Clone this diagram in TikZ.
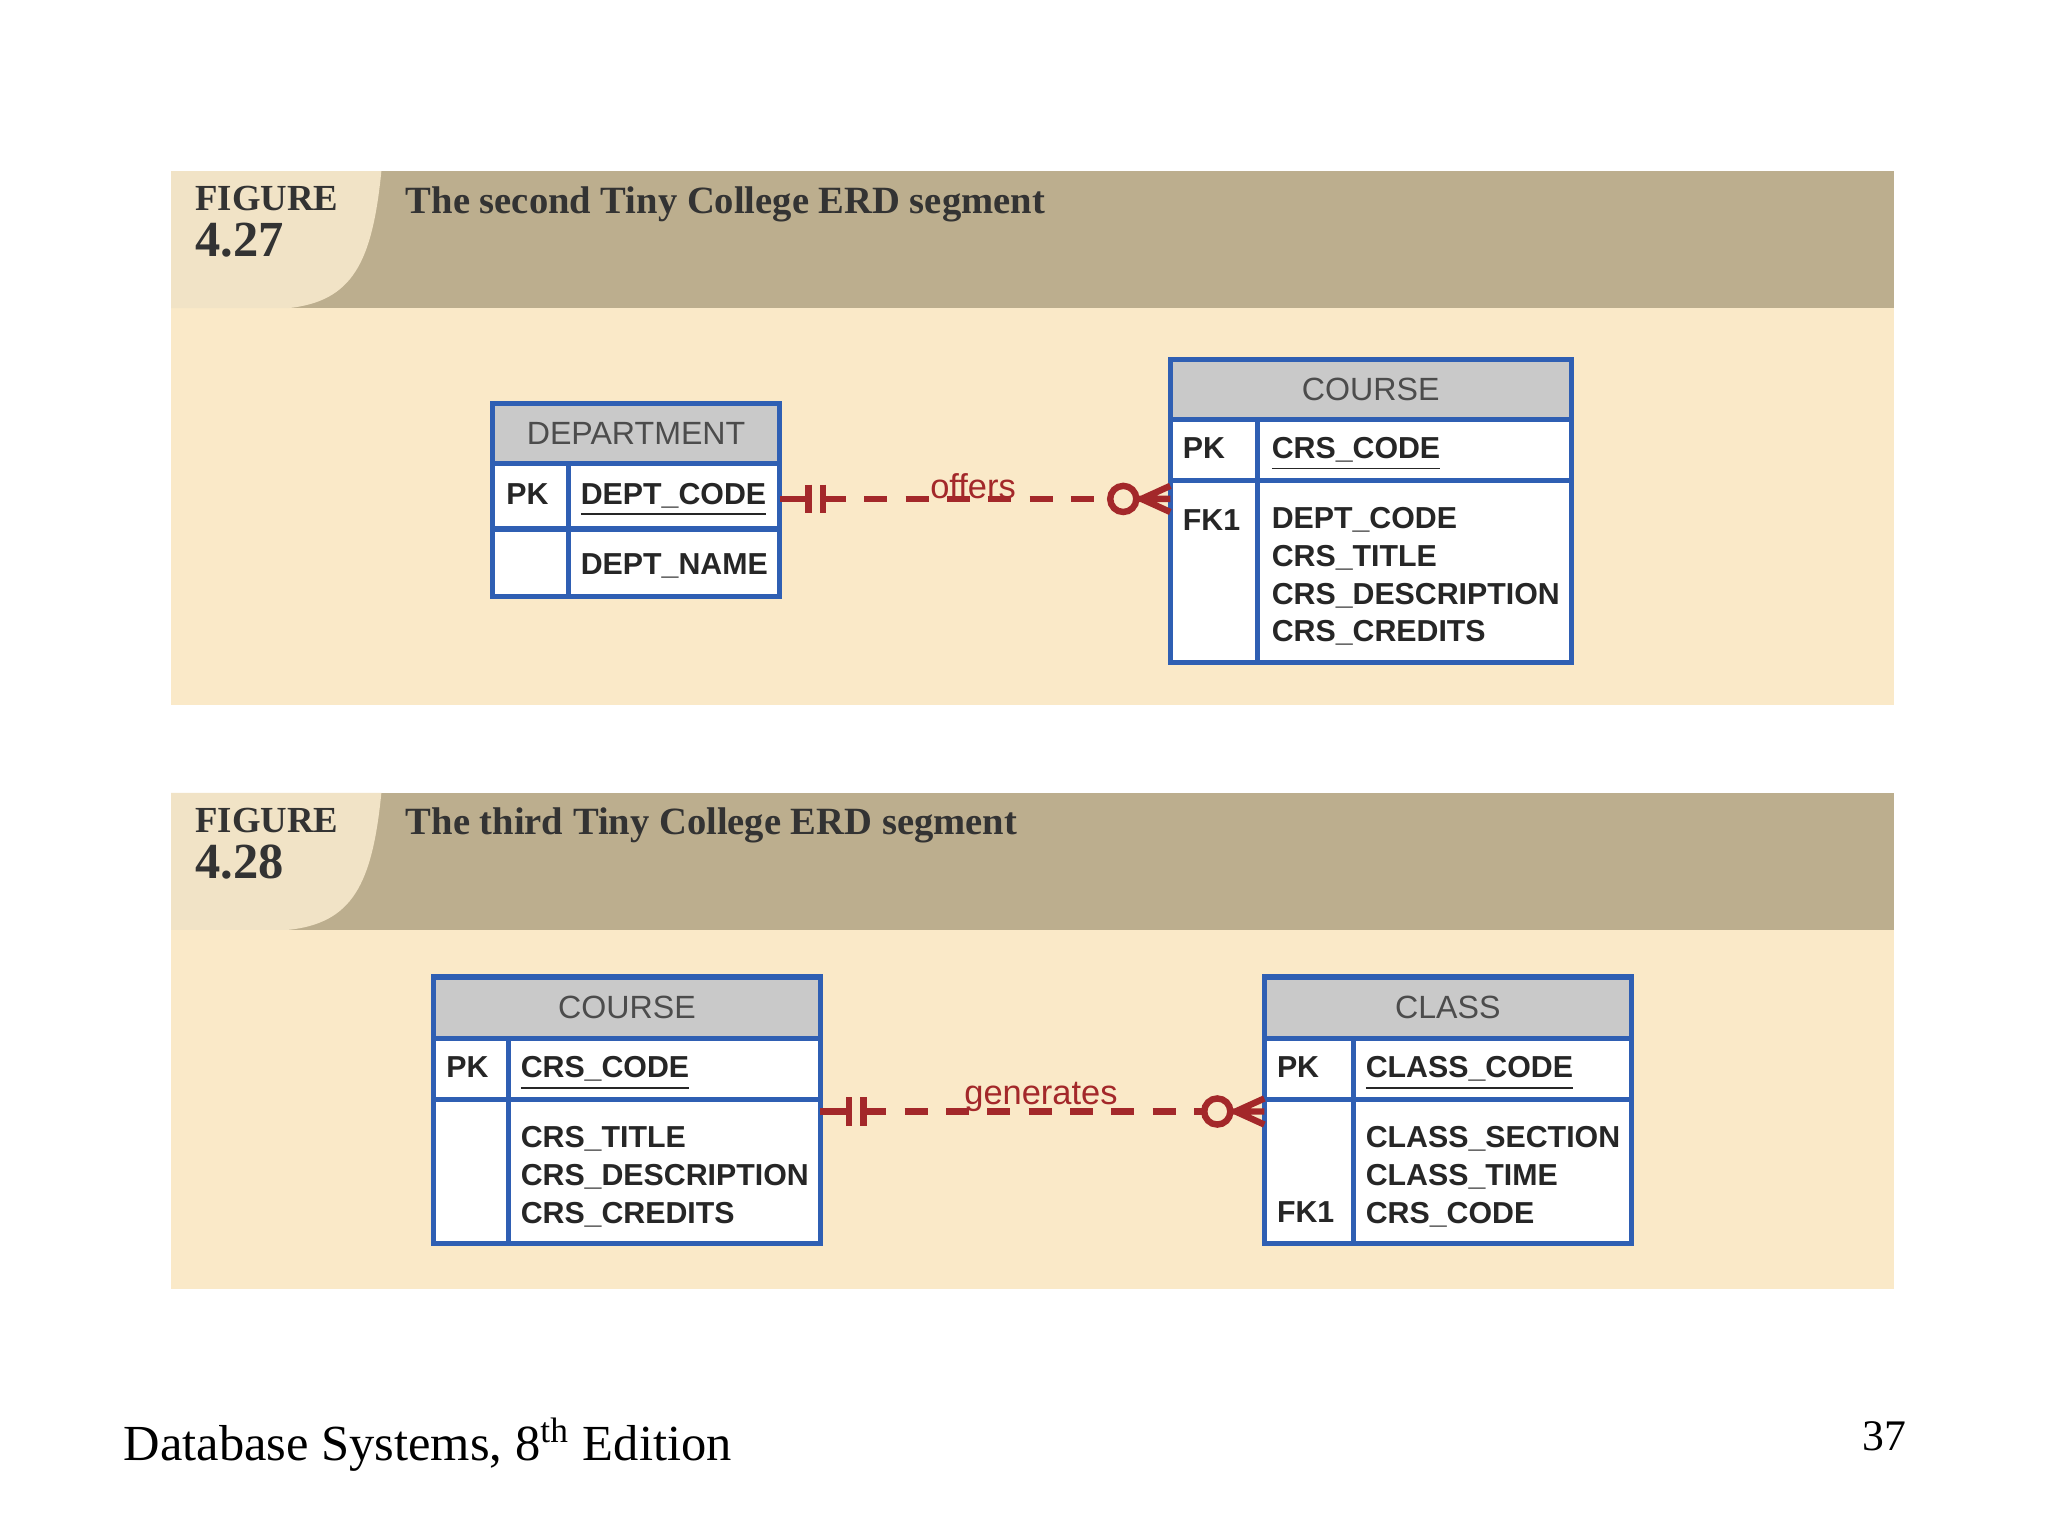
\documentclass[tikz,border=0pt]{standalone}
\usepackage{fontspec}
\setmainfont{Liberation Serif}
\newfontfamily\attrfont{Liberation Sans}
\usetikzlibrary{calc}
\definecolor{bandtan}{HTML}{BCAE8E}
\definecolor{bandlight}{HTML}{FAE9C8}
\definecolor{cornerlight}{HTML}{F1E3C6}
\definecolor{tblblue}{HTML}{2F5FB3}
\definecolor{tblgray}{HTML}{C9C9C9}
\definecolor{relred}{HTML}{A3282A}
\tikzset{
  tbl/.style={draw=tblblue, line width=1.1pt},
  tblhead/.style={tbl, fill=tblgray},
  tblbody/.style={tbl, fill=white},
  tname/.style={font=\attrfont\fontsize{7}{8}\selectfont, text=black!70},
  attr/.style={font=\attrfont\bfseries\fontsize{6.6}{8.2}\selectfont, text=black!85, anchor=west, align=left, inner sep=0pt},
  key/.style={attr, anchor=base west},
  rel/.style={draw=relred, line width=1.4pt},
  reldash/.style={rel, dash pattern=on 5pt off 4pt},
  rellabel/.style={font=\attrfont\fontsize{7.5}{9}\selectfont, text=relred, inner sep=0pt},
  fignum/.style={font=\bfseries\fontsize{8}{9}\selectfont, text=black!80, anchor=north west, align=left, inner sep=0pt},
  figtitle/.style={font=\bfseries\fontsize{8.4}{10}\selectfont, text=black!80, anchor=north west, inner sep=0pt},
}
% #1 = top y of panel band, #2 = band height
\newcommand*{\FigBand}[2]{%
  \fill[bandlight] (131,#1+105) rectangle (1450,#1+#2);
  \fill[bandtan] (131,#1) rectangle (1450,#1+105);
  \fill[cornerlight] (131,#1) -- (292,#1) .. controls (285,#1+70) and (270,#1+100) .. (220,#1+105) -- (131,#1+105) -- cycle;
}
% #1 name, #2 x1, #3 y1, #4 header bottom, #5 pk bottom, #6 x2, #7 y2, #8 column split
\newcommand*{\ErTable}[8]{%
  \draw[tblbody] (#2,#3) rectangle (#6,#7);
  \draw[tblhead] (#2,#3) rectangle (#6,#4);
  \draw[tbl] (#2,#5) -- (#6,#5);
  \draw[tbl] (#8,#4) -- (#8,#7);
  \node[tname] (#1-title) at ({(#2+#6)/2},{(#3+#4)/2}) {#1};
}
\newcommand*{\KeyUl}[1]{\underline{#1}}
\begin{document}
\begin{tikzpicture}[x=0.01cm,y=-0.01cm]
  \useasboundingbox[fill=white] (0,0) rectangle (1568,1176);

  % figure 4.27
  \FigBand{131}{409}
  \node[fignum] (fig27) at (149,142) {FIGURE\\[1pt]{\fontsize{11}{11}\selectfont 4.27}};
  \node[figtitle] (title27) at (310,142) {The second Tiny College ERD segment};

  \ErTable{DEPARTMENT}{377}{309}{355}{405}{597}{457}{435}
  \node[attr] (dpk) at (387,378) {PK};
  \node[key] (dcode) at (444,386) {\KeyUl{DEPT\_CODE}};
  \node[attr] (dname) at (444,433) {DEPT\_NAME};

  \ErTable{COURSE}{896}{275}{321}{368}{1203}{507}{963}
  \node[attr] (cpk) at (905,343) {PK};
  \node[key] (ccode) at (973,351) {\KeyUl{CRS\_CODE}};
  \node[attr] (cfk) at (905,398) {FK1};
  \node[attr, anchor=north west] (cattr) at (973,388) {DEPT\_CODE\\CRS\_TITLE\\CRS\_DESCRIPTION\\CRS\_CREDITS};

  \coordinate (offA) at (597,382);
  \coordinate (offB) at (896,382);
  \draw[rel] (offA) -- ++(22,0);
  \draw[rel] ($(offA)+(22,-11)$) -- ++(0,22);
  \draw[rel] ($(offA)+(33,-11)$) -- ++(0,22);
  \draw[reldash] ($(offA)+(33,0)$) -- ($(offB)+(-46,0)$);
  \draw[rel] ($(offB)+(-36,0)$) circle (10);
  \draw[rel] ($(offB)+(-24,0)$) -- (offB) ($(offB)+(-22,0)$) -- ($(offB)+(0,-10)$) ($(offB)+(-22,0)$) -- ($(offB)+(0,10)$);
  \node[rellabel] (offers) at (745,372) {offers};

  % figure 4.28
  \FigBand{607}{380}
  \node[fignum] (fig28) at (149,618) {FIGURE\\[1pt]{\fontsize{11}{11}\selectfont 4.28}};
  \node[figtitle] (title28) at (310,618) {The third Tiny College ERD segment};

  \ErTable{COURSE}{332}{748}{795}{842}{628}{952}{389}
  \node[attr] (kpk) at (341,817) {PK};
  \node[key] (kcode) at (398,825) {\KeyUl{CRS\_CODE}};
  \node[attr, anchor=north west] (kattr) at (398,862) {CRS\_TITLE\\CRS\_DESCRIPTION\\CRS\_CREDITS};

  \ErTable{CLASS}{968}{748}{795}{842}{1249}{952}{1036}
  \node[attr] (lpk) at (977,817) {PK};
  \node[key] (lcode) at (1045,825) {\KeyUl{CLASS\_CODE}};
  \node[attr] (lfk) at (977,928) {FK1};
  \node[attr, anchor=north west] (lattr) at (1045,862) {CLASS\_SECTION\\CLASS\_TIME\\CRS\_CODE};

  \coordinate (genA) at (628,851);
  \coordinate (genB) at (968,851);
  \draw[rel] (genA) -- ++(22,0);
  \draw[rel] ($(genA)+(22,-11)$) -- ++(0,22);
  \draw[rel] ($(genA)+(33,-11)$) -- ++(0,22);
  \draw[reldash] ($(genA)+(33,0)$) -- ($(genB)+(-46,0)$);
  \draw[rel] ($(genB)+(-36,0)$) circle (10);
  \draw[rel] ($(genB)+(-24,0)$) -- (genB) ($(genB)+(-22,0)$) -- ($(genB)+(0,-10)$) ($(genB)+(-22,0)$) -- ($(genB)+(0,10)$);
  \node[rellabel] (generates) at (797,840) {generates};

  % footer
  \node[font=\fontsize{11}{12}\selectfont, anchor=west, inner sep=0pt] (foot) at (94,1106) {Database Systems, 8\textsuperscript{th} Edition};
  \node[font=\fontsize{9.5}{10}\selectfont, anchor=east, inner sep=0pt] (page) at (1460,1100) {37};
\end{tikzpicture}
\end{document}
